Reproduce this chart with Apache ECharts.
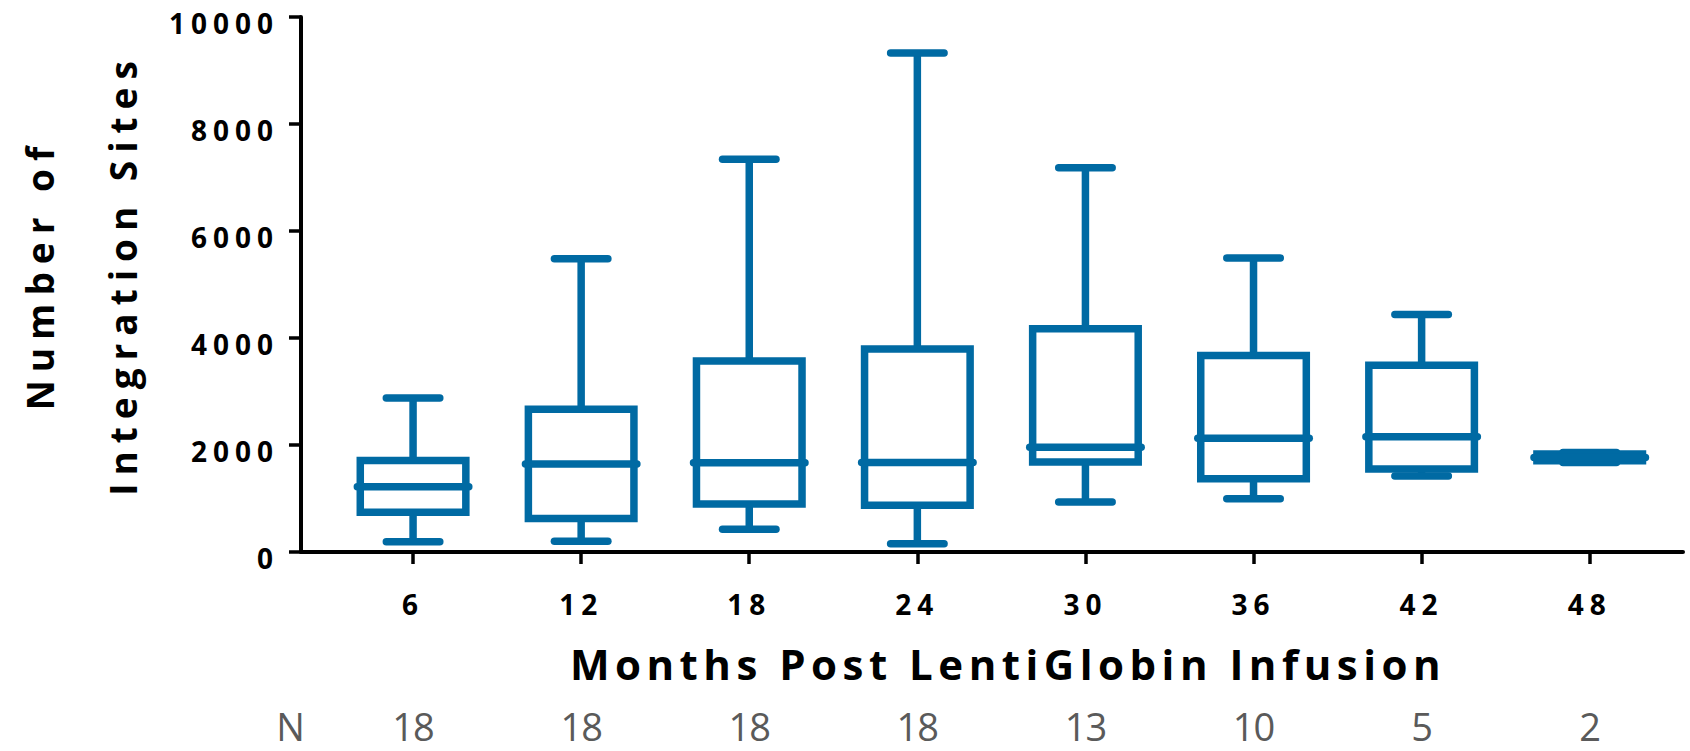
<!DOCTYPE html>
<html>
<head>
<meta charset="utf-8">
<script src="https://cdn.jsdelivr.net/npm/echarts@6/dist/echarts.min.js"></script>
<style>
  html, body { margin: 0; padding: 0; background: #fff; }
  #main { width: 1690px; height: 751px; }
  #main text[style*="28px"] { letter-spacing: 6px; }
  #main text[style*="37px"] { letter-spacing: 8px; }
  #main text[style*="42px"] { letter-spacing: 5.5px; }
  #main text[style*="38px"] { letter-spacing: -1px; }
</style>
</head>
<body>
<div id="main"></div>
<script>
// ---- data ----
const months = [6, 12, 18, 24, 30, 36, 42, 48];
const minVals    = [190, 200, 425, 155, 935, 995, 1420, 1675];
const q1Vals     = [745, 625, 895, 875, 1680, 1370, 1550, 1705];
const medianVals = [1220, 1645, 1670, 1675, 1960, 2125, 2155, 1765];
const q3Vals     = [1710, 2670, 3570, 3795, 4175, 3675, 3490, 1830];
const maxVals    = [2880, 5480, 7340, 9325, 7180, 5495, 4440, 1860];
const nCounts    = [18, 18, 18, 18, 13, 10, 5, 2];
const yTicks     = [0, 2000, 4000, 6000, 8000, 10000];

const BLUE = '#006aa3';
const LW = 7.5;

const boxData = months.map((m, i) => [m, minVals[i], q1Vals[i], medianVals[i], q3Vals[i], maxVals[i]]);

function renderBox(params, api) {
  const x = api.value(0);
  const cx = api.coord([x, 0])[0];
  const y = v => api.coord([x, api.value(v)])[1];
  const yMin = y(1), yQ1 = y(2), yMed = y(3), yQ3 = y(4), yMax = y(5);
  const band = api.size([6, 0])[0];
  const bw = band * 0.628;
  const cw = band * 0.318;
  const mw = band * 0.663;
  const lineStyle = { stroke: BLUE, lineWidth: LW, fill: null, lineCap: 'butt' };
  const capStyle = { stroke: BLUE, lineWidth: LW, fill: null, lineCap: 'round' };
  return {
    type: 'group',
    children: [
      { type: 'line', shape: { x1: cx, y1: yMax, x2: cx, y2: yQ3 }, style: lineStyle },
      { type: 'line', shape: { x1: cx, y1: yQ1, x2: cx, y2: yMin }, style: lineStyle },
      { type: 'line', shape: { x1: cx - cw / 2, y1: yMax, x2: cx + cw / 2, y2: yMax }, style: capStyle },
      { type: 'line', shape: { x1: cx - cw / 2, y1: yMin, x2: cx + cw / 2, y2: yMin }, style: capStyle },
      { type: 'rect', shape: { x: cx - bw / 2, y: yQ3, width: bw, height: yQ1 - yQ3 },
        style: { stroke: BLUE, lineWidth: LW, fill: 'none', lineJoin: 'miter' } },
      { type: 'line', shape: { x1: cx - mw / 2, y1: yMed, x2: cx + mw / 2, y2: yMed }, style: capStyle }
    ]
  };
}

const chart = echarts.init(document.getElementById('main'), null, { renderer: 'svg' });
chart.setOption({
  animation: false,
  backgroundColor: '#fff',
  grid: { left: 301, right: 7, top: 17, bottom: 199, containLabel: false, outerBoundsMode: 'none' },
  xAxis: [
    {
      type: 'value', min: 2, max: 51.33,
      splitLine: { show: false },
      axisLine: { show: true, onZero: false, lineStyle: { color: '#000', width: 4 } },
      axisTick: { show: true, customValues: months, length: 12, lineStyle: { color: '#000', width: 3.5 } },
      axisLabel: {
        customValues: months, margin: 38,
        fontFamily: 'Open Sans', fontWeight: 'bold', fontSize: 28, lineHeight: 28, color: '#000',
        formatter: v => String(v)
      },
      name: 'Months Post LentiGlobin Infusion',
      nameLocation: 'middle', nameGap: 90,
      nameTextStyle: { fontFamily: 'Open Sans', fontWeight: 'bold', fontSize: 42, color: '#000', padding: [0, 0, 0, 32] }
    },
    {
      type: 'value', min: 2, max: 51.33, position: 'bottom',
      splitLine: { show: false },
      axisLine: { show: false },
      axisTick: { show: false },
      axisLabel: {
        customValues: months, margin: 160,
        fontFamily: 'Open Sans', fontSize: 38, lineHeight: 28, color: '#5a5a5a',
        formatter: v => String(nCounts[months.indexOf(v)])
      }
    }
  ],
  yAxis: {
    type: 'value', min: yTicks[0], max: yTicks[yTicks.length - 1], interval: 2000,
    splitLine: { show: false },
    axisLine: { show: true, lineStyle: { color: '#000', width: 4 } },
    axisTick: { show: true, length: 12, lineStyle: { color: '#000', width: 3.5 } },
    axisLabel: {
      margin: 22, verticalAlign: 'top', lineHeight: 12,
      fontFamily: 'Open Sans', fontWeight: 'bold', fontSize: 28, color: '#000',
      formatter: v => String(v)
    },
    name: 'Number of\nIntegration Sites',
    nameLocation: 'middle', nameRotate: 90, nameGap: 137,
    nameTextStyle: { fontFamily: 'Open Sans', fontWeight: 'bold', fontSize: 37, lineHeight: 83, color: '#000', padding: [0, 0, 0, 20] }
  },
  graphic: [
    { type: 'text', x: 290, y: 726,
      style: { text: 'N', fontFamily: 'Open Sans', fontSize: 38, lineHeight: 28, fill: '#5a5a5a', align: 'center', verticalAlign: 'middle' } }
  ],
  series: [{
    type: 'custom',
    xAxisIndex: 0, yAxisIndex: 0,
    renderItem: renderBox,
    encode: { x: 0, y: [1, 2, 3, 4, 5] },
    data: boxData,
    clip: false
  }]
});
</script>
</body>
</html>
